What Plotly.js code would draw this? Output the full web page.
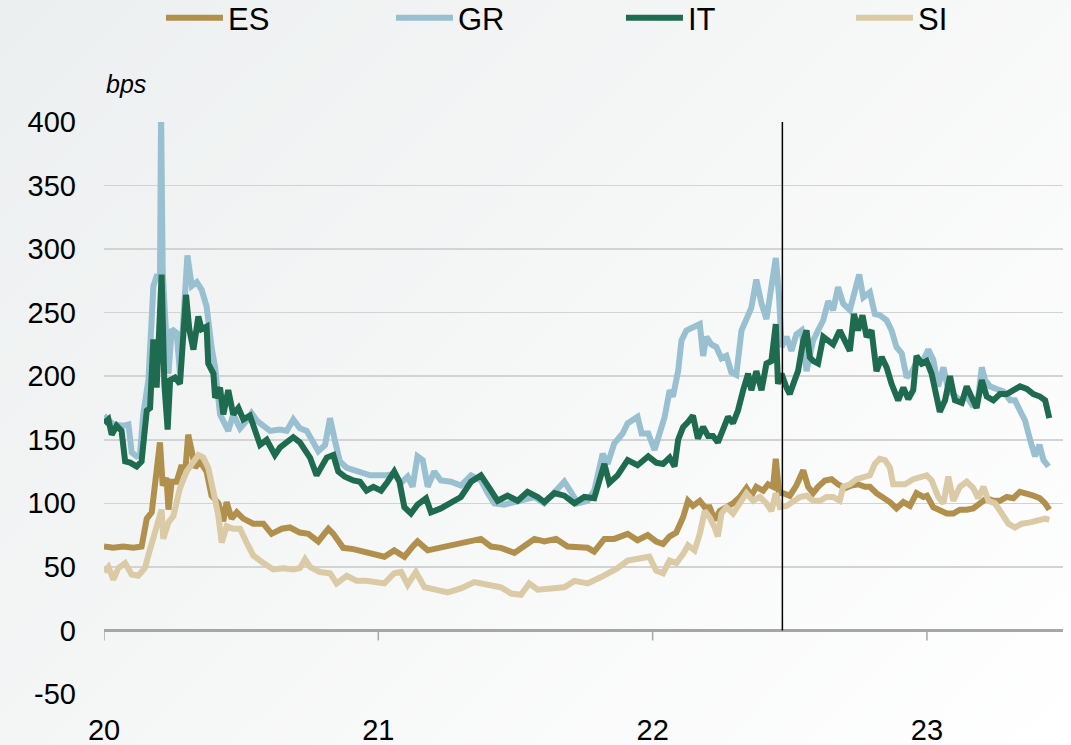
<!DOCTYPE html>
<html>
<head>
<meta charset="utf-8">
<script src="https://cdn.plot.ly/plotly-3.0.1.min.js"></script>
<style>
  html, body { margin: 0; padding: 0; }
  body { width: 1071px; height: 745px; overflow: hidden;
         background: linear-gradient(135deg, #eceff0 0%, #f5f6f6 45%, #ffffff 100%); }
  #chart { width: 1071px; height: 745px; }
</style>
</head>
<body>
<div id="chart"></div>
<script>
// ---- Data (bps), x = decimal year ----
const seriesNames = ['ES', 'GR', 'IT', 'SI'];
const seriesColors = ['#b0904c', '#98c0d0', '#1e6b50', '#dacaa5'];

const esX = [
  2020.000,2020.034,2020.070,2020.107,2020.137,2020.156,2020.174,2020.186,2020.204,2020.214,
  2020.228,2020.235,2020.247,2020.265,2020.283,2020.295,2020.307,2020.320,2020.332,2020.350,
  2020.374,2020.392,2020.417,2020.435,2020.447,2020.465,2020.484,2020.508,2020.544,2020.581,
  2020.611,2020.648,2020.678,2020.714,2020.745,2020.781,2020.818,2020.836,2020.872,2020.909,
  2020.957,
  2021.022,2021.058,2021.095,2021.125,2021.143,2021.180,2021.228,2021.277,2021.326,2021.374,
  2021.411,2021.447,2021.496,2021.532,2021.569,2021.605,2021.648,2021.690,2021.727,2021.763,
  2021.787,2021.824,2021.860,2021.909,2021.945,2021.982,
  2022.013,2022.038,2022.062,2022.086,2022.111,2022.129,2022.147,2022.172,2022.190,2022.208,
  2022.226,2022.245,2022.269,2022.293,2022.318,2022.342,2022.360,2022.378,2022.403,2022.421,
  2022.439,2022.449,2022.461,2022.476,2022.500,2022.524,2022.549,2022.567,2022.585,2022.603,
  2022.628,2022.652,2022.676,2022.701,2022.725,2022.749,2022.774,2022.792,2022.816,2022.841,
  2022.865,2022.889,2022.914,2022.938,2022.962,2022.987,
  2023.000,2023.023,2023.047,2023.072,2023.096,2023.120,2023.145,2023.169,2023.193,2023.218,
  2023.242,2023.266,2023.291,2023.315,2023.339,2023.364,2023.388,2023.412,2023.431,2023.446
];
const esY = [
  66,65,66,65,66,88,93,117,148,114,
  120,95,117,117,130,122,154,141,128,133,
  125,106,100,86,101,88,93,88,84,84,
  76,80,81,77,76,70,80,76,65,64,
  61,
  58,63,58,66,70,63,65,67,70,72,
  66,65,61,67,72,70,72,66,65,65,
  62,72,72,76,71,75,
  70,68,74,77,89,102,98,102,97,97,
  87,94,97,100,105,112,106,113,110,115,
  113,135,108,108,106,114,126,113,108,113,
  118,119,115,112,114,115,113,113,108,105,
  101,96,101,98,108,105,
  106,97,95,92,92,95,95,96,100,104,
  102,102,105,104,109,108,106,104,100,95
];

const grX = [
  2020.000,2020.034,2020.070,2020.089,2020.101,2020.119,2020.131,2020.143,2020.162,2020.180,
  2020.194,2020.204,2020.208,2020.214,2020.222,2020.235,2020.247,2020.265,2020.277,2020.289,
  2020.304,2020.320,2020.338,2020.356,2020.374,2020.392,2020.405,2020.423,2020.453,2020.471,
  2020.496,2020.520,2020.538,2020.557,2020.581,2020.605,2020.642,2020.666,2020.690,2020.714,
  2020.739,2020.763,2020.781,2020.806,2020.824,2020.842,2020.860,2020.885,2020.909,2020.945,
  2020.970,
  2021.022,2021.058,2021.083,2021.107,2021.125,2021.143,2021.162,2021.180,2021.204,2021.228,
  2021.265,2021.301,2021.338,2021.374,2021.399,2021.423,2021.459,2021.496,2021.532,2021.569,
  2021.605,2021.642,2021.678,2021.702,2021.727,2021.763,2021.787,2021.818,2021.836,2021.860,
  2021.891,2021.909,2021.945,2021.960,2021.984,
  2022.007,2022.026,2022.044,2022.062,2022.074,2022.093,2022.105,2022.123,2022.147,2022.172,
  2022.184,2022.196,2022.214,2022.232,2022.251,2022.269,2022.287,2022.305,2022.324,2022.348,
  2022.360,2022.378,2022.397,2022.415,2022.433,2022.449,2022.461,2022.470,2022.488,2022.506,
  2022.524,2022.543,2022.561,2022.585,2022.603,2022.622,2022.640,2022.658,2022.676,2022.695,
  2022.719,2022.737,2022.753,2022.768,2022.792,2022.810,2022.828,2022.853,2022.871,2022.889,
  2022.908,2022.926,2022.944,2022.962,2022.981,
  2023.005,2023.023,2023.041,2023.060,2023.078,2023.096,2023.120,2023.145,2023.169,2023.187,
  2023.200,2023.212,2023.230,2023.254,2023.279,2023.303,2023.321,2023.339,2023.358,2023.376,
  2023.394,2023.410,2023.425,2023.443
];
const grY = [
  169,162,161,162,140,137,138,170,197,271,
  280,275,410,282,250,202,237,234,202,250,
  295,271,274,268,255,223,207,170,157,170,
  159,165,171,165,161,157,158,157,166,159,
  157,149,141,146,167,149,133,128,126,124,
  122,
  122,123,116,121,113,137,134,113,125,118,
  117,114,122,118,108,100,99,101,102,105,
  100,108,117,109,100,102,110,139,131,147,
  155,163,168,155,155,
  142,157,168,189,184,204,228,236,238,241,
  216,231,225,223,214,216,203,201,236,249,
  254,276,257,245,270,293,262,223,231,220,
  233,236,204,228,236,244,259,252,270,257,
  252,266,280,262,266,249,248,244,236,223,
  218,199,203,211,210,
  221,213,192,207,189,186,181,184,176,184,
  207,197,192,190,188,181,181,173,165,150,
  137,146,134,129
];

const itX = [
  2020.000,2020.016,2020.028,2020.046,2020.064,2020.077,2020.095,2020.119,2020.137,2020.156,
  2020.168,2020.180,2020.192,2020.202,2020.210,2020.220,2020.232,2020.241,2020.259,2020.277,
  2020.289,2020.299,2020.311,2020.326,2020.344,2020.356,2020.374,2020.380,2020.399,2020.405,
  2020.423,2020.435,2020.453,2020.471,2020.490,2020.508,2020.532,2020.550,2020.569,2020.593,
  2020.623,2020.642,2020.666,2020.690,2020.714,2020.733,2020.751,2020.775,2020.793,2020.812,
  2020.836,2020.854,2020.878,2020.909,2020.933,2020.957,2020.982,
  2021.010,2021.034,2021.058,2021.077,2021.095,2021.119,2021.143,2021.174,2021.192,2021.228,
  2021.265,2021.301,2021.338,2021.374,2021.405,2021.435,2021.471,2021.508,2021.544,2021.581,
  2021.605,2021.642,2021.678,2021.715,2021.751,2021.787,2021.824,2021.842,2021.872,2021.909,
  2021.945,2021.984,
  2022.013,2022.038,2022.062,2022.080,2022.093,2022.111,2022.129,2022.147,2022.165,2022.184,
  2022.202,2022.220,2022.238,2022.257,2022.275,2022.293,2022.311,2022.330,2022.348,2022.360,
  2022.378,2022.397,2022.415,2022.433,2022.449,2022.457,2022.470,2022.488,2022.500,2022.518,
  2022.530,2022.549,2022.561,2022.573,2022.585,2022.603,2022.622,2022.640,2022.658,2022.682,
  2022.701,2022.719,2022.734,2022.749,2022.765,2022.780,2022.798,2022.816,2022.835,2022.853,
  2022.871,2022.895,2022.914,2022.932,2022.950,2022.962,2022.981,2022.999,
  2023.017,2023.035,2023.047,2023.066,2023.084,2023.102,2023.127,2023.145,2023.163,2023.181,
  2023.200,2023.218,2023.242,2023.266,2023.291,2023.315,2023.339,2023.364,2023.388,2023.412,
  2023.431,2023.446
];
const itY = [
  163,166,154,161,157,133,132,129,133,173,
  175,229,191,260,280,194,158,197,199,194,
  231,264,237,221,247,237,239,210,202,183,
  191,170,189,170,175,166,169,159,146,150,
  138,144,148,152,148,142,136,122,130,136,
  138,125,121,118,117,110,113,
  110,117,125,117,97,92,99,104,93,96,
  101,105,117,122,112,102,106,102,109,105,
  101,108,106,100,105,104,131,116,122,134,
  130,137,
  132,131,136,129,150,160,164,169,151,160,
  153,153,148,160,168,163,173,189,202,189,
  204,189,210,212,241,194,202,191,186,197,
  204,228,236,215,212,210,231,228,225,236,
  227,220,249,236,248,231,236,204,215,207,
  194,181,191,182,189,216,210,212,
  202,184,172,181,200,181,179,192,184,175,
  197,184,181,186,186,189,192,190,186,184,
  181,167
];

const siX = [
  2020.000,2020.016,2020.034,2020.052,2020.077,2020.101,2020.125,2020.149,2020.168,2020.192,
  2020.210,2020.216,2020.235,2020.253,2020.277,2020.301,2020.326,2020.344,2020.362,2020.380,
  2020.399,2020.417,2020.429,2020.447,2020.471,2020.496,2020.520,2020.544,2020.581,2020.617,
  2020.654,2020.690,2020.714,2020.733,2020.751,2020.787,2020.824,2020.848,2020.885,2020.921,
  2020.957,
  2021.022,2021.058,2021.083,2021.107,2021.137,2021.168,2021.204,2021.253,2021.301,2021.350,
  2021.399,2021.447,2021.484,2021.520,2021.550,2021.581,2021.629,2021.678,2021.715,2021.763,
  2021.812,2021.836,2021.872,2021.909,2021.958,2021.988,
  2022.013,2022.038,2022.062,2022.086,2022.111,2022.129,2022.153,2022.172,2022.190,2022.208,
  2022.226,2022.238,2022.251,2022.269,2022.293,2022.318,2022.342,2022.366,2022.391,2022.415,
  2022.433,2022.449,2022.464,2022.488,2022.512,2022.537,2022.561,2022.585,2022.610,2022.634,
  2022.658,2022.682,2022.695,2022.719,2022.743,2022.768,2022.792,2022.810,2022.828,2022.847,
  2022.865,2022.877,2022.895,2022.920,2022.950,2022.974,2022.999,
  2023.017,2023.041,2023.060,2023.078,2023.096,2023.120,2023.145,2023.169,2023.187,2023.206,
  2023.224,2023.248,2023.273,2023.297,2023.321,2023.346,2023.376,2023.406,2023.431,2023.446
];
const siY = [
  46,50,40,49,53,44,43,49,64,82,
  95,72,85,90,112,125,133,138,136,128,
  109,90,69,82,80,80,69,59,53,48,
  49,48,49,56,50,46,45,37,43,39,
  39,
  37,45,46,36,46,34,32,30,33,38,
  36,34,29,28,37,32,33,34,39,37,
  42,45,49,55,57,58,
  47,45,55,53,60,67,63,76,94,89,
  81,74,92,97,92,100,108,102,105,100,
  94,108,97,98,102,105,106,102,102,105,
  105,102,113,115,119,121,122,131,135,134,
  128,115,115,115,119,121,122,
  118,105,100,121,102,113,117,112,104,113,
  102,100,92,84,81,84,85,87,88,87
];

const xTickVals = [2020, 2021, 2022, 2023];
const xTickText = ['20', '21', '22', '23'];
const yTickVals = [-50, 0, 50, 100, 150, 200, 250, 300, 350, 400];
const yTickText = ['-50', '0', '50', '100', '150', '200', '250', '300', '350', '400'];
const markerDate = 2022.473;   // vertical reference line
const unitLabel = 'bps';

// ---- Chart ----
const FONT = 'Liberation Sans, Arial, Helvetica, sans-serif';
const xs = [esX, grX, itX, siX];
const ys = [esY, grY, itY, siY];

const traces = seriesNames.map((name, i) => ({
  type: 'scatter', mode: 'lines', name: name,
  x: xs[i], y: ys[i],
  line: { color: seriesColors[i], width: 6 },
  hoverinfo: 'skip'
}));

const xRange = [2020, 2023.496];
const AXIS_GREY = '#a6a6a6';

// small tick marks hanging below the zero axis line at each year
const tickShapes = xTickVals.map(v => ({
  type: 'line', xref: 'x', yref: 'y', ysizemode: 'pixel', yanchor: 0,
  x0: v, x1: v, y0: 0, y1: -10,
  line: { color: AXIS_GREY, width: 1.5 }, layer: 'below'
}));

const layout = {
  width: 1071, height: 745,
  margin: { l: 104, r: 8, t: 122, b: 51, autoexpand: false },
  paper_bgcolor: 'rgba(0,0,0,0)',
  plot_bgcolor: 'rgba(0,0,0,0)',
  font: { family: FONT, color: '#000' },
  showlegend: true,
  legend: {
    orientation: 'h', x: 0.0594, xanchor: 'left', y: 1.229, yanchor: 'top',
    font: { family: FONT, size: 31, color: '#000' },
    entrywidth: 158, entrywidthmode: 'pixels', itemwidth: 57,
    bgcolor: 'rgba(0,0,0,0)', traceorder: 'normal'
  },
  xaxis: {
    range: xRange, tickvals: xTickVals, ticktext: xTickText,
    showgrid: false, zeroline: false, showline: false, ticks: '',
    tickfont: { family: FONT, size: 29, color: '#000' },
    ticklabelstandoff: 16, fixedrange: true
  },
  yaxis: {
    range: [-50, 400], tickvals: yTickVals, ticktext: yTickText,
    showgrid: true, gridcolor: '#d3d3d3', gridwidth: 1.5,
    zeroline: true, zerolinecolor: AXIS_GREY, zerolinewidth: 2.5,
    showline: false, ticks: '',
    tickfont: { family: FONT, size: 29, color: '#000' },
    ticklabelstandoff: 27, fixedrange: true
  },
  shapes: tickShapes.concat([{
    type: 'line', xref: 'x', yref: 'y',
    x0: markerDate, x1: markerDate, y0: 0, y1: 402,
    line: { color: '#000', width: 1.5 }, layer: 'above'
  }]),
  annotations: [{
    xref: 'paper', yref: 'paper', x: 0, y: 1, xanchor: 'left', yanchor: 'bottom',
    yshift: 22, text: '<i>' + unitLabel + '</i>', showarrow: false,
    font: { family: FONT, size: 25, color: '#000' }
  }]
};

Plotly.newPlot('chart', traces, layout, { staticPlot: true, displayModeBar: false });
</script>
</body>
</html>
